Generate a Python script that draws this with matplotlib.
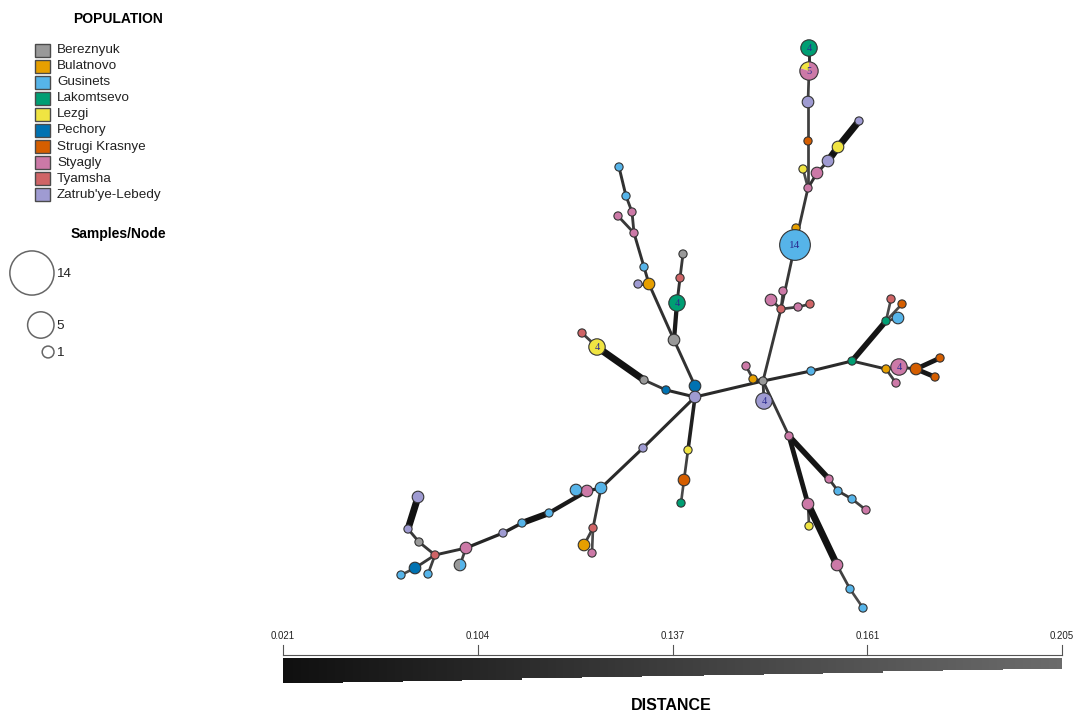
import numpy as np
import matplotlib.pyplot as plt
from matplotlib.patches import Circle, Wedge, Rectangle

plt.rcParams['font.family'] = ['Liberation Sans', 'DejaVu Sans']

# populations and their colours
populations = ['Bereznyuk', 'Bulatnovo', 'Gusinets', 'Lakomtsevo', 'Lezgi', 'Pechory',
               'Strugi Krasnye', 'Styagly', 'Tyamsha', "Zatrub'ye-Lebedy"]
pop_colors = ['#999999', '#E69F00', '#56B4E9', '#009E73', '#F0E442', '#0072B2',
              '#D55E00', '#CC79A7', '#CF6466', '#9F9BD2']

# network layout (x, y), population of each node and samples per node
node_x = [695, 695, 763, 753, 746, 764, 781, 771, 783, 798, 810, 796, 795, 808, 803, 808, 808, 809, 809,
          817, 828, 838, 859, 674, 677, 680, 683, 649, 638, 644, 634, 632, 618, 626, 619, 666, 644, 597,
          582, 688, 684, 681, 643, 601, 587, 576, 549, 522, 503, 466, 435, 419, 408, 418, 415, 401, 428,
          460, 593, 584, 592, 811, 852, 886, 891, 902, 898, 886, 899, 916, 940, 935, 896, 789, 829, 838,
          852, 866, 808, 809, 837, 850, 863]
node_y = [386, 397, 381, 379, 366, 401, 309, 300, 291, 307, 304, 228, 245, 188, 169, 141, 102, 71, 48,
          173, 161, 147, 121, 340, 303, 278, 254, 284, 284, 267, 233, 212, 216, 196, 167, 390, 380, 347,
          333, 450, 480, 503, 448, 488, 491, 490, 513, 523, 533, 548, 555, 542, 529, 497, 568, 575, 574,
          565, 528, 545, 553, 371, 361, 321, 299, 304, 318, 369, 367, 369, 358, 377, 383, 436, 479, 491,
          499, 510, 504, 526, 565, 589, 608]
node_pop = [5, 9, 0, 1, 7, 9, 8, 7, 7, 7, 8, 1, 2, 7, 4, 6, 9, None, 3,
            7, 9, 4, 9, 0, 3, 8, 0, 1, 9, 2, 7, 7, 7, 2, 2, 5, 0, 4,
            8, 4, 6, 3, 9, 2, 7, 2, 2, 2, 9, 7, 8, 0, 9, 9, 5, 2, 2,
            None, 8, 1, 7, 2, 3, 3, 8, 6, 2, 1, 7, 6, 6, 6, 7, 7, 7, 2,
            2, 7, 7, 4, 7, 2, 2]
node_n = [2, 2, 1, 1, 1, 4, 1, 2, 1, 1, 1, 1, 14, 1, 1, 1, 2, 5, 4,
          2, 2, 2, 1, 2, 4, 1, 1, 2, 1, 1, 1, 1, 1, 1, 1, 1, 1, 4,
          1, 1, 2, 1, 1, 2, 2, 2, 1, 1, 1, 2, 1, 1, 1, 2, 2, 1, 1,
          2, 1, 2, 1, 1, 1, 1, 1, 1, 2, 1, 4, 2, 1, 1, 1, 1, 1, 1,
          1, 1, 2, 1, 2, 1, 1]
# nodes shared by several populations: (population, count)
mixed_nodes = {17: [(4, 1), (7, 4)], 57: [(0, 1), (2, 1)]}

# minimum spanning edges: (from, to, distance)
edges = [(0, 1, 0.11), (1, 2, 0.11), (2, 3, 0.12), (3, 4, 0.14), (2, 5, 0.13), (2, 6, 0.13),
         (6, 7, 0.14), (6, 8, 0.15), (6, 9, 0.14), (9, 10, 0.14), (6, 12, 0.13), (12, 11, 0.15),
         (12, 13, 0.13), (13, 14, 0.15), (13, 15, 0.14), (15, 16, 0.14), (16, 17, 0.14), (17, 18, 0.12),
         (13, 19, 0.12), (19, 20, 0.12), (20, 21, 0.03), (21, 22, 0.03),
         (23, 0, 0.12), (23, 24, 0.06), (24, 25, 0.12), (25, 26, 0.13), (23, 27, 0.12), (27, 28, 0.14),
         (27, 29, 0.12), (29, 30, 0.12), (30, 31, 0.13), (30, 32, 0.13), (31, 33, 0.13), (33, 34, 0.12),
         (1, 35, 0.11), (35, 36, 0.13), (36, 37, 0.03), (37, 38, 0.14),
         (1, 39, 0.08), (39, 40, 0.14), (40, 41, 0.15),
         (1, 42, 0.11), (42, 43, 0.11), (43, 44, 0.10), (44, 45, 0.10), (44, 46, 0.06), (46, 47, 0.035),
         (47, 48, 0.09), (48, 49, 0.10), (49, 50, 0.12), (50, 51, 0.13), (51, 52, 0.13), (52, 53, 0.03),
         (50, 54, 0.13), (54, 55, 0.15), (50, 56, 0.14), (49, 57, 0.14),
         (43, 58, 0.13), (58, 59, 0.14), (58, 60, 0.15),
         (2, 61, 0.11), (61, 62, 0.11), (62, 63, 0.04), (63, 64, 0.15), (63, 65, 0.15), (63, 66, 0.14),
         (62, 67, 0.12), (67, 68, 0.13), (68, 69, 0.12), (69, 70, 0.05), (69, 71, 0.05), (67, 72, 0.14),
         (2, 73, 0.13), (73, 74, 0.04), (74, 75, 0.13), (75, 76, 0.13), (76, 77, 0.14),
         (73, 78, 0.05), (78, 79, 0.15), (78, 80, 0.03), (80, 81, 0.14), (81, 82, 0.15)]

# distance scale
dist_ticks = [0.021, 0.104, 0.137, 0.161, 0.205]
dist_labels = ['0.021', '0.104', '0.137', '0.161', '0.205']
size_legend = [14, 5, 1]


def dist_frac(d):
    return np.interp(d, dist_ticks, np.linspace(0, 1, len(dist_ticks)))


def dist_gray(t):
    g = 0.06 + 0.36 * t
    return (g, g, g)


fig = plt.figure(figsize=(10.76, 7.12), dpi=100)
ax = fig.add_axes([0, 0, 1, 1])
ax.set_xlim(0, 1076)
ax.set_ylim(712, 0)
ax.axis('off')

px = 0.72  # points per pixel

# edges
for a, b, d in edges:
    t = dist_frac(d)
    lw = (1.6 + 0.16 / d) * px
    ax.plot([node_x[a], node_x[b]], [node_y[a], node_y[b]], color=dist_gray(t),
            lw=lw, solid_capstyle='butt', zorder=1)

# nodes
for i in range(len(node_x)):
    r = 4.1 * np.sqrt(node_n[i])
    cx, cy = node_x[i], node_y[i]
    if i in mixed_nodes:
        start = 90.0
        for p, c in mixed_nodes[i]:
            span = 360.0 * c / node_n[i]
            ax.add_patch(Wedge((cx, cy), r, -(start + span), -start, facecolor=pop_colors[p],
                               edgecolor='none', zorder=2 + i * 0.01))
            start += span
        ax.add_patch(Circle((cx, cy), r, facecolor='none', edgecolor='#333333', lw=0.8,
                            zorder=2 + i * 0.01))
    else:
        ax.add_patch(Circle((cx, cy), r, facecolor=pop_colors[node_pop[i]], edgecolor='#333333',
                            lw=0.8, zorder=2 + i * 0.01))
    if node_n[i] >= 3:
        ax.text(cx, cy + 0.5, str(node_n[i]), ha='center', va='center',
                fontsize=8 if node_n[i] > 9 else 7.5,
                family='Liberation Serif', color='#2a2a90', zorder=3)

# population legend
ax.text(118, 19, 'POPULATION', ha='center', va='center', fontsize=10, fontweight='bold')
for k, name in enumerate(populations):
    y = 50 + k * 16.1
    ax.add_patch(Rectangle((35, y - 6.5), 15, 13, facecolor=pop_colors[k], edgecolor='#4a4a4a', lw=1.0))
    ax.text(57, y, name, ha='left', va='center', fontsize=9.7, color='#222222')

# node size legend
ax.text(118, 234, 'Samples/Node', ha='center', va='center', fontsize=10, fontweight='bold')
for n, cy in zip(size_legend, [273, 325, 352]):
    r = 5.9 * np.sqrt(n)
    ax.add_patch(Circle((54 - r, cy), r, facecolor='none', edgecolor='#666666', lw=1.1))
    ax.text(56, cy + 1, str(n), ha='left', va='center', fontsize=9.7, color='#222222')

# distance colour bar
x0, x1 = 283, 1062
bar_top = 658
nseg = 300
edges_x = np.linspace(x0, x1, nseg + 1)
for k in range(nseg):
    t = (k + 0.5) / nseg
    h = 25 - 15 * np.floor(t * 13) / 13
    ax.add_patch(Rectangle((edges_x[k], bar_top), edges_x[k + 1] - edges_x[k] + 0.3, h,
                           facecolor=dist_gray(t), edgecolor='none'))
ax.plot([x0, x1], [655, 655], color='#555555', lw=0.8)
for k, lab in enumerate(dist_labels):
    tx = x0 + (x1 - x0) * k / (len(dist_labels) - 1)
    ax.plot([tx, tx], [645, 655], color='#555555', lw=0.8)
    ax.text(tx, 636, lab, ha='center', va='center', fontsize=7, color='#222222')
ax.text(671, 705, 'DISTANCE', ha='center', va='center', fontsize=11.5, fontweight='bold')

fig.savefig('out.png', dpi=100)
